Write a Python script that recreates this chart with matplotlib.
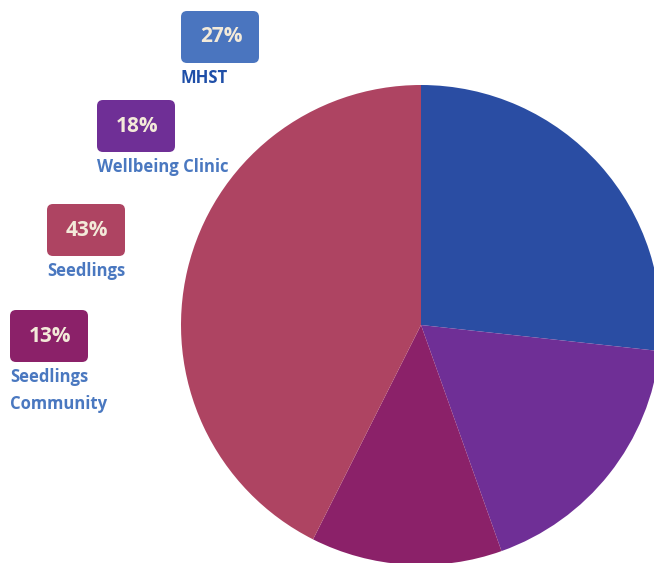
import matplotlib.pyplot as plt
from matplotlib.patches import FancyBboxPatch

# Service share of referrals
labels = ['MHST', 'Wellbeing Clinic', 'Seedlings Community', 'Seedlings']
shares = [27, 18, 13, 43]
colors = ['#2a4da3', '#6f2f96', '#8b2169', '#ae4462']

# legend entries (top to bottom)
leg_labels = ['MHST', 'Wellbeing Clinic', 'Seedlings', 'Seedlings\nCommunity']
leg_shares = [27, 18, 43, 13]
leg_box = ['#4a75bf', '#6f2f96', '#ae4462', '#8b2169']
leg_text = ['#1f4fa8', '#4a78c0', '#4a78c0', '#4a78c0']

W, H = 654, 563
fig = plt.figure(figsize=(W / 100, H / 100), dpi=100)
ax = fig.add_axes([0, 0, 1, 1])

ax.pie(shares, colors=colors, startangle=90, counterclock=False,
       center=(421, H - 325), radius=240,
       wedgeprops=dict(linewidth=0))

ax.set_xlim(0, W)
ax.set_ylim(0, H)
ax.set_aspect('equal')
ax.axis('off')

FONT = 'Open Sans'

# label boxes, top-left pixel of each box
pos = [(181, 11), (97, 100), (47, 204), (10, 310)]
for (x, y), lab, s, bc, tc in zip(pos, leg_labels, leg_shares, leg_box, leg_text):
    bw, bh = 78, 52
    r = 6
    box = FancyBboxPatch((x + r, H - y - bh + r), bw - 2 * r, bh - 2 * r,
                         boxstyle='round,pad=%d' % r, fc=bc, ec='none')
    ax.add_patch(box)
    ax.text(x + bw / 2 + 1, H - y - bh / 2, f'{s}%', ha='center', va='center',
            fontsize=15, fontweight='bold', color='#f3ead9', family=FONT)
    ax.text(x, H - y - bh - 6, lab, ha='left', va='top', fontsize=12,
            fontweight='bold', color=tc, family=FONT, linespacing=1.62)

fig.savefig('out.png', dpi=100)
